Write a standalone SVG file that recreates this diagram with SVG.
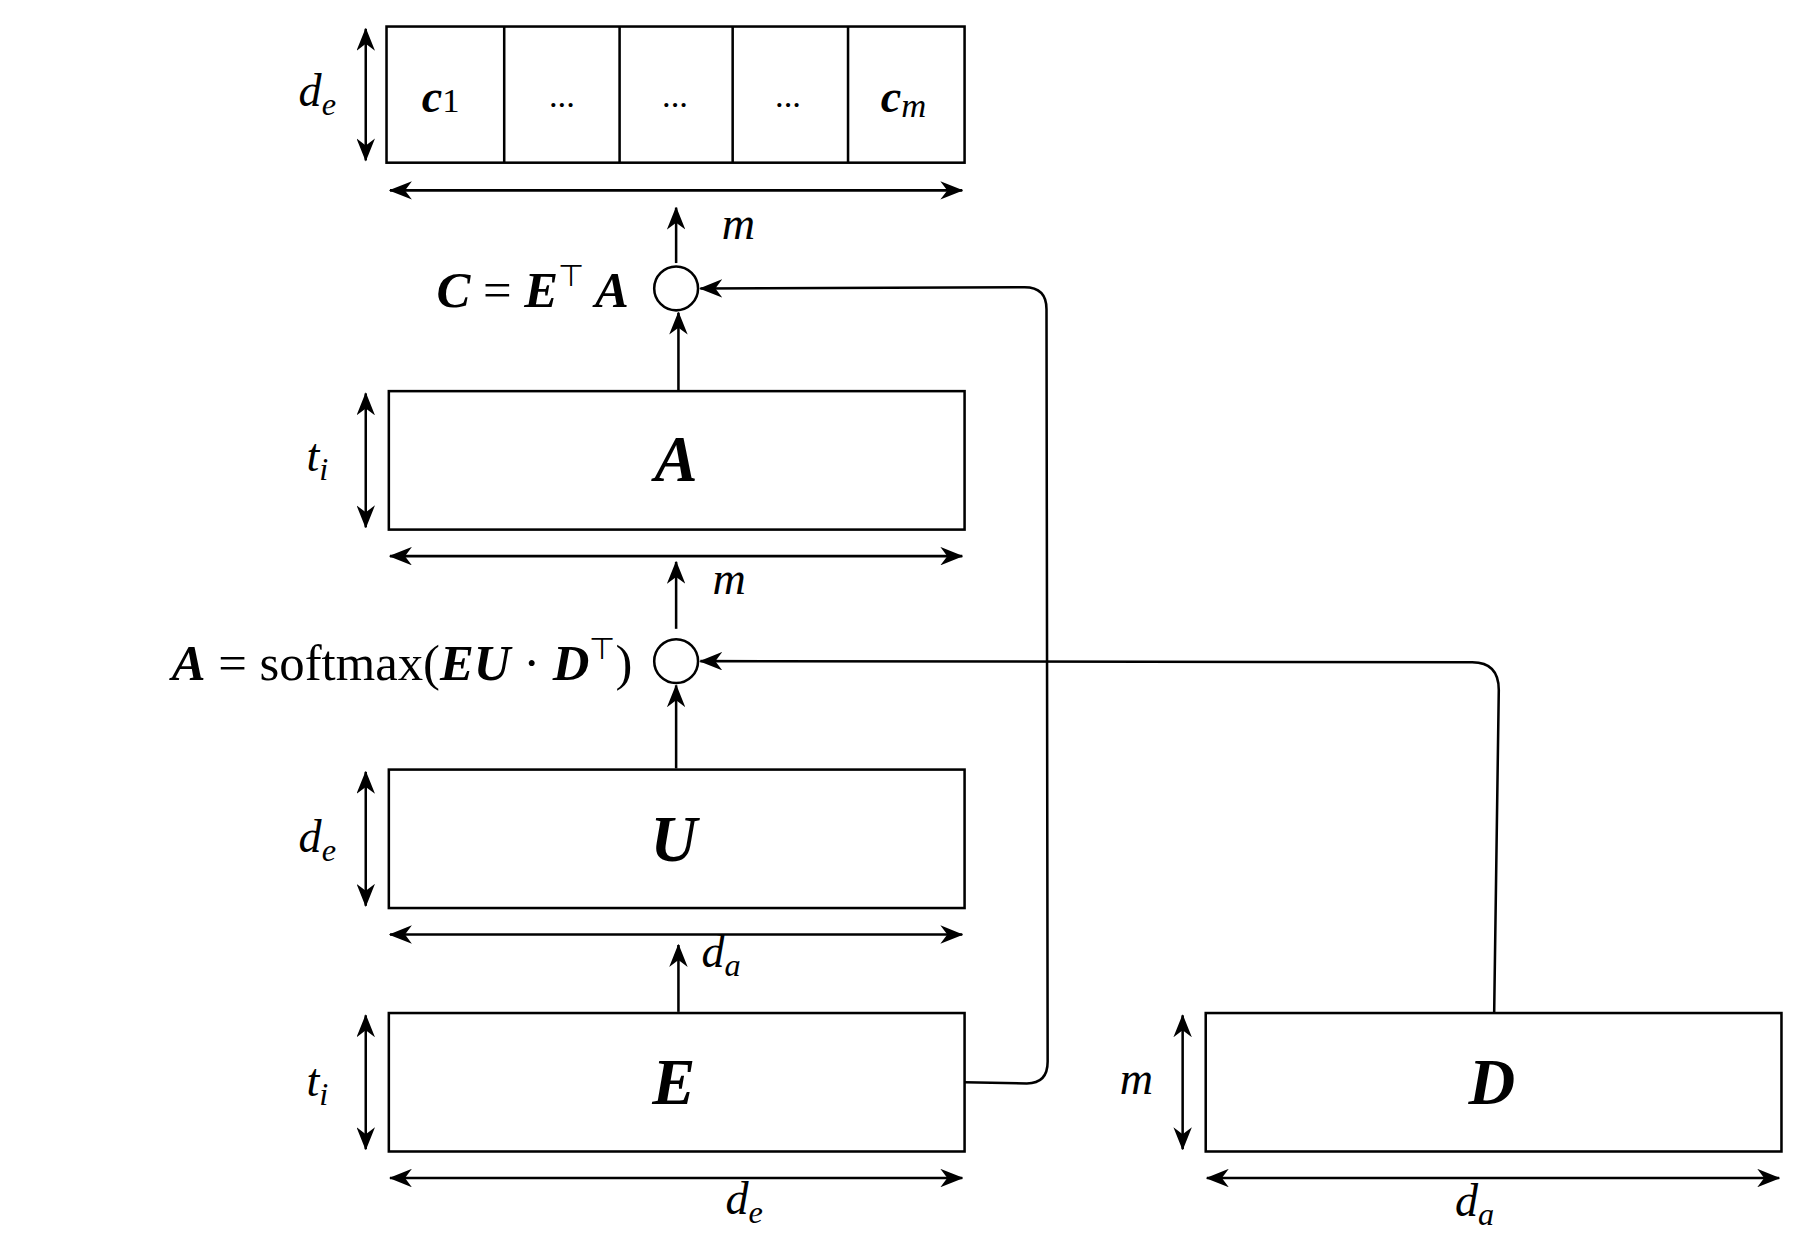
<svg xmlns="http://www.w3.org/2000/svg" width="1800" height="1248" viewBox="0 0 1800 1248">
<defs>
<marker id="ah" viewBox="0 0 20 16" refX="19" refY="8" markerWidth="20" markerHeight="16" markerUnits="userSpaceOnUse" orient="auto-start-reverse">
<path d="M0,0 L20,8 L0,16 L6,8 Z" fill="#000"/>
</marker>
<style>
.b{fill:#fff;stroke:#000;stroke-width:2.2}
.l{fill:none;stroke:#000;stroke-width:2.2}
.a{fill:none;stroke:#000;stroke-width:2.2;marker-end:url(#ah)}
.d{fill:none;stroke:#000;stroke-width:2.2;marker-start:url(#ah);marker-end:url(#ah)}
.t{font-family:"Liberation Serif",serif;font-style:italic;font-size:40px}
.bt{font-family:"Liberation Serif",serif;font-style:italic;font-weight:bold;font-size:56px}
.f{font-family:"Liberation Serif",serif;font-size:44px}
.r{font-family:"Liberation Serif",serif;font-size:30px}
</style>
</defs>
<g transform="scale(1.1538)">
<g id="connectors">
<path class="d" d="M317,25 V139"/>
<path class="d" d="M338,165 H834"/>
<path class="a" d="M586,228 V180"/>
<path class="a" d="M588,343 V271"/>
<path class="a" d="M836,938 L890,939 Q908,939 908,920 L907,268 Q907,249 888,249 L607,250"/>
<path class="d" d="M317,341 V457"/>
<path class="d" d="M338,482 H834"/>
<path class="a" d="M586,545 V487"/>
<path class="a" d="M586,666 V594"/>
<path class="a" d="M1295,878 L1299,598 Q1299,574 1276,574 L607,573"/>
<path class="d" d="M317,669 V785"/>
<path class="d" d="M338,810 H834"/>
<path class="a" d="M588,877 V819"/>
<path class="d" d="M317,880 V996"/>
<path class="d" d="M338,1021 H834"/>
<path class="d" d="M1025,880 V996"/>
<path class="d" d="M1046,1021 H1542"/>
</g>
<g id="c-row">
<rect class="b" x="335" y="23" width="501" height="118"/>
<path class="l" d="M437,23V141M537,23V141M635,23V141M735,23V141"/>
<text x="382" y="97" class="t" text-anchor="middle"><tspan font-weight="bold">c</tspan><tspan font-style="normal" font-size="30">1</tspan></text>
<text x="487" y="93" class="r" text-anchor="middle">...</text>
<text x="585" y="93" class="r" text-anchor="middle">...</text>
<text x="683" y="93" class="r" text-anchor="middle">...</text>
<text x="783" y="97" class="t" text-anchor="middle"><tspan font-weight="bold">c</tspan><tspan font-size="30" dy="4">m</tspan></text>
<text x="275" y="92" class="t" text-anchor="middle">d<tspan font-size="28" dy="8">e</tspan></text>
<text x="640" y="207" class="t" text-anchor="middle">m</text>
</g>
<g id="op1">
<circle cx="586" cy="250" r="19" class="b"/>
<text x="545" y="266" class="f" text-anchor="end"><tspan font-style="italic" font-weight="bold">C</tspan> = <tspan font-style="italic" font-weight="bold">E</tspan><tspan font-size="26" dy="-18">⊤</tspan><tspan dy="18" font-style="italic" font-weight="bold"> A</tspan></text>
</g>
<g id="A">
<rect class="b" x="337" y="339" width="499" height="120"/>
<text x="586" y="417" class="bt" text-anchor="middle">A</text>
<text x="275" y="408" class="t" text-anchor="middle">t<tspan font-size="28" dy="8">i</tspan></text>
<text x="632" y="515" class="t" text-anchor="middle">m</text>
</g>
<g id="op2">
<circle cx="586" cy="573" r="19" class="b"/>
<text x="548" y="589" class="f" text-anchor="end"><tspan font-style="italic" font-weight="bold">A</tspan> = softmax(<tspan font-style="italic" font-weight="bold">EU</tspan> · <tspan font-style="italic" font-weight="bold">D</tspan><tspan font-size="26" dy="-18">⊤</tspan><tspan dy="18">)</tspan></text>
</g>
<g id="U">
<rect class="b" x="337" y="667" width="499" height="120"/>
<text x="584" y="746" class="bt" text-anchor="middle">U</text>
<text x="275" y="738" class="t" text-anchor="middle">d<tspan font-size="28" dy="8">e</tspan></text>
<text x="625" y="838" class="t" text-anchor="middle">d<tspan font-size="28" dy="8">a</tspan></text>
</g>
<g id="E">
<rect class="b" x="337" y="878" width="499" height="120"/>
<text x="584" y="957" class="bt" text-anchor="middle">E</text>
<text x="275" y="950" class="t" text-anchor="middle">t<tspan font-size="28" dy="8">i</tspan></text>
<text x="645" y="1052" class="t" text-anchor="middle">d<tspan font-size="28" dy="8">e</tspan></text>
</g>
<g id="D">
<rect class="b" x="1045" y="878" width="499" height="120"/>
<text x="1293" y="957" class="bt" text-anchor="middle">D</text>
<text x="985" y="948" class="t" text-anchor="middle">m</text>
<text x="1278" y="1054" class="t" text-anchor="middle">d<tspan font-size="28" dy="8">a</tspan></text>
</g>
</g>
</svg>
